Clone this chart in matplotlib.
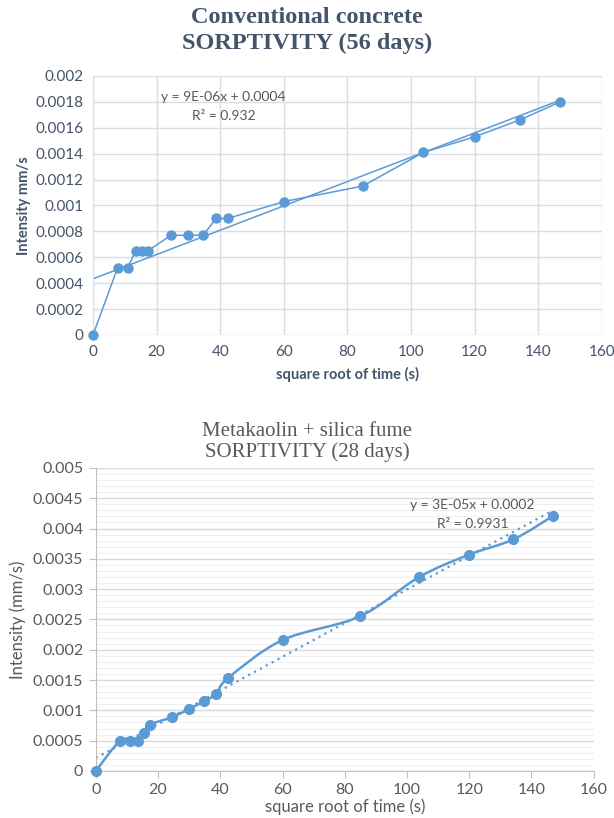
import numpy as np
import matplotlib
matplotlib.use("Agg")
import matplotlib.pyplot as plt
from matplotlib.path import Path
from matplotlib.patches import PathPatch
from matplotlib.ticker import MultipleLocator

# square root of time (s)
sqrt_time = [0, 7.75, 10.95, 13.42, 15.49, 17.32, 24.49, 30.0, 34.64, 38.73,
             42.43, 60.0, 84.85, 103.92, 120.0, 134.16, 146.97]

# conventional concrete, 56 days
conv_56 = [0.0, 0.00052, 0.00052, 0.00065, 0.00065, 0.00065, 0.00077, 0.00077,
           0.00077, 0.00090, 0.00090, 0.00103, 0.00115, 0.00141, 0.00153,
           0.00166, 0.00180]

# metakaolin + silica fume, 28 days
mksf_28 = [0.0, 0.00050, 0.00050, 0.00050, 0.00063, 0.00076, 0.00089, 0.00102,
           0.00115, 0.00127, 0.00153, 0.00216, 0.00255, 0.00320, 0.00357,
           0.00382, 0.00421]

# trendline labels as printed on the charts
conv_eq = ["y = 9E-06x + 0.0004", "R² = 0.932"]
mksf_eq = ["y = 3E-05x + 0.0002", "R² = 0.9931"]

BLUE = "#5b9bd5"
SLATE = "#44546a"
GREY = "#595959"
GRID = "#d9dde4"

plt.rcParams['font.family'] = ['Lato', 'DejaVu Sans']


def smooth_path(x, y):
    # excel-ish smoothed line: bezier segments through every point
    x = np.asarray(x, float)
    y = np.asarray(y, float)
    n = len(x)
    verts = [(x[0], y[0])]
    codes = [Path.MOVETO]
    for i in range(n - 1):
        p0 = np.array([x[max(i - 1, 0)], y[max(i - 1, 0)]])
        p1 = np.array([x[i], y[i]])
        p2 = np.array([x[i + 1], y[i + 1]])
        p3 = np.array([x[min(i + 2, n - 1)], y[min(i + 2, n - 1)]])
        c1 = p1 + (p2 - p0) / 6.0
        c2 = p2 - (p3 - p1) / 6.0
        verts += [tuple(c1), tuple(c2), tuple(p2)]
        codes += [Path.CURVE4] * 3
    return Path(verts, codes)


def fmt(v, p):
    return "0" if v == 0 else "{:g}".format(round(v, 5))


fig = plt.figure(figsize=(6.14, 8.18), dpi=100)
xt = np.array([0, sqrt_time[-1]])

# ---- top chart ----
ax1 = fig.add_axes([0.1515, 0.5905, 0.8285, 0.3166])
ax1.plot(sqrt_time, conv_56, color=BLUE, lw=1.1, marker='o', ms=6.5, zorder=3, clip_on=False)
k1, b1 = np.polyfit(sqrt_time, conv_56, 1)
ax1.plot(xt, k1 * xt + b1, color=BLUE, lw=1.1, zorder=2)

ax1.set_xlim(0, 160)
ax1.set_ylim(0, 0.002)
ax1.xaxis.set_major_locator(MultipleLocator(20))
ax1.yaxis.set_major_locator(MultipleLocator(0.0002))
ax1.yaxis.set_major_formatter(plt.FuncFormatter(fmt))
ax1.grid(True, color=GRID, lw=1)
ax1.set_axisbelow(True)
for s in ax1.spines.values():
    s.set_visible(False)
ax1.spines['left'].set_visible(True)
ax1.spines['left'].set_color(GRID)
ax1.tick_params(length=0, labelsize=11, labelcolor=SLATE, pad=7)
ax1.set_xlabel("square root of time (s)", fontsize=10.5, fontweight='bold', color=SLATE, labelpad=6)
ax1.set_ylabel("Intensity mm/s", fontsize=10.5, fontweight='bold', color=SLATE, labelpad=3)
ax1.text(41, 0.00184, conv_eq[0], ha='center', va='center', fontsize=10, color=GREY)
ax1.text(41, 0.00169, conv_eq[1], ha='center', va='center', fontsize=10, color=GREY)
fig.text(0.5, 0.992, "Conventional concrete\nSORPTIVITY (56 days)", ha='center', va='top',
         fontsize=17.5, fontweight='bold', family='Liberation Serif', color=SLATE, linespacing=1.3)

# ---- bottom chart ----
ax2 = fig.add_axes([0.156, 0.0575, 0.811, 0.3705])
ax2.add_patch(PathPatch(smooth_path(sqrt_time, mksf_28), fill=False, ec=BLUE, lw=1.8, zorder=3))
ax2.plot(sqrt_time, mksf_28, ls='none', marker='o', ms=7, color=BLUE, zorder=4, clip_on=False)
k2, b2 = np.polyfit(sqrt_time, mksf_28, 1)
ax2.plot(xt, k2 * xt + b2, color=BLUE, lw=1.6, ls=(0, (1, 2)), zorder=2)

ax2.set_xlim(0, 160)
ax2.set_ylim(0, 0.005)
ax2.xaxis.set_major_locator(MultipleLocator(20))
ax2.yaxis.set_major_locator(MultipleLocator(0.0005))
ax2.yaxis.set_minor_locator(MultipleLocator(0.0001))
ax2.yaxis.set_major_formatter(plt.FuncFormatter(fmt))
ax2.grid(True, axis='y', which='major', color="#d9d9d9", lw=1)
ax2.grid(True, axis='y', which='minor', color="#efefef", lw=0.8)
ax2.set_axisbelow(True)
ax2.spines['top'].set_visible(False)
ax2.spines['right'].set_visible(False)
ax2.spines['left'].set_color("#bfbfbf")
ax2.spines['bottom'].set_color("#bfbfbf")
ax2.tick_params(which='major', length=5, color="#bfbfbf", labelsize=11.5, labelcolor=GREY, pad=4)
ax2.tick_params(which='minor', length=0)
ax2.set_xlabel("square root of time (s)", fontsize=12, color=GREY, labelpad=1)
ax2.set_ylabel("Intensity (mm/s)", fontsize=12, color=GREY, labelpad=5)
ax2.text(121, 0.00439, mksf_eq[0], ha='center', va='center', fontsize=10, color=GREY)
ax2.text(121, 0.00408, mksf_eq[1], ha='center', va='center', fontsize=10, color=GREY)
fig.text(0.5, 0.484, "Metakaolin + silica fume\nSORPTIVITY (28 days)", ha='center', va='top',
         fontsize=15, family='Liberation Serif', color=GREY, linespacing=1.1)

fig.savefig("out.png", dpi=100)
